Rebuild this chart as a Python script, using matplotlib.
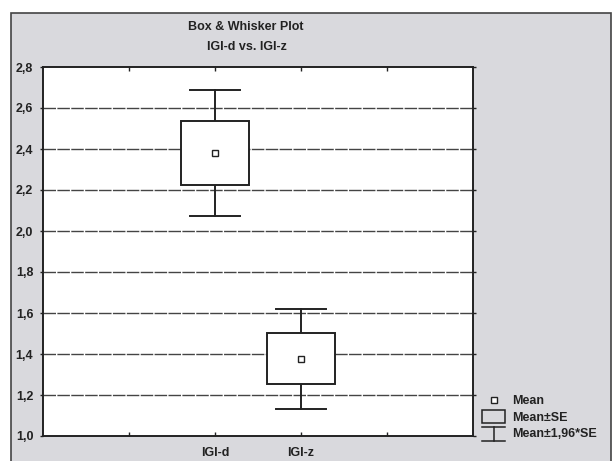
import matplotlib
matplotlib.use("Agg")
import matplotlib.pyplot as plt
from matplotlib.patches import Rectangle
from matplotlib.lines import Line2D

# data
groups = ["IGI-d", "IGI-z"]
positions = [2, 3]
means = [2.38, 1.377]
se = [0.157, 0.124]
z = 1.96

yticks = [1.0, 1.2, 1.4, 1.6, 1.8, 2.0, 2.2, 2.4, 2.6, 2.8]
ytick_labels = ["1,0", "1,2", "1,4", "1,6", "1,8", "2,0", "2,2", "2,4", "2,6", "2,8"]

legend_labels = ["Mean", "Mean±SE", "Mean±1,96*SE"]

W, H = 613, 461
plt.rcParams.update({"font.family": ["Liberation Sans", "DejaVu Sans"],
                     "font.weight": "bold", "font.size": 9})
INK = "#222222"
PAPER = "#d9d9dd"

fig = plt.figure(figsize=(W / 100, H / 100), dpi=100)
fig.patch.set_facecolor("white")


def fx(px):
    return px / W


def fy(py):
    return 1 - py / H


# grey outer frame of the scanned figure
fig.add_artist(Rectangle((fx(11), fy(465)), fx(600), (465 - 12.5) / H,
                         transform=fig.transFigure, facecolor=PAPER,
                         edgecolor="#444444", lw=1.2, zorder=0))

ax = fig.add_axes([fx(43), fy(436), fx(430), (436 - 67) / H])
ax.set_facecolor("white")
ax.set_xlim(0, 5)
ax.set_ylim(1.0, 2.8)
for s in ax.spines.values():
    s.set_color(INK)
    s.set_linewidth(1.4)

# nearly solid dashed horizontal grid
for y in yticks[1:-1]:
    ax.axhline(y, color="#444444", lw=1.0, ls=(0, (9, 1)), zorder=1)

ax.set_yticks(yticks)
ax.set_yticklabels(ytick_labels)
ax.set_xticks([1, 2, 3, 4])
ax.set_xticklabels(["", groups[0], groups[1], ""])
ax.tick_params(axis="x", direction="in", length=3, width=1, top=True,
               pad=8, colors=INK)
ax.tick_params(axis="y", direction="out", length=2, width=1, right=True,
               pad=5, colors=INK)

box_w = 0.8
cap_w = 0.58
for x, m, s in zip(positions, means, se):
    lo, hi = m - z * s, m + z * s
    ax.plot([x, x], [lo, m - s], color=INK, lw=1.4, zorder=3)
    ax.plot([x, x], [m + s, hi], color=INK, lw=1.4, zorder=3)
    ax.plot([x - cap_w / 2, x + cap_w / 2], [lo, lo], color=INK, lw=1.4, zorder=3)
    ax.plot([x - cap_w / 2, x + cap_w / 2], [hi, hi], color=INK, lw=1.4, zorder=3)
    ax.add_patch(Rectangle((x - box_w / 2, m - s), box_w, 2 * s,
                           facecolor="white", edgecolor=INK, lw=1.4, zorder=4))
    ax.plot(x, m, marker="s", ms=4.2, mfc="white", mec=INK, mew=1, zorder=5)

# titles
fig.text(fx(246), fy(27), "Box & Whisker Plot", ha="center", va="center", color=INK)
fig.text(fx(247), fy(47), "IGI-d vs. IGI-z", ha="center", va="center", color=INK)

# hand-drawn key, Statistica style
T = fig.transFigure
fig.add_artist(Line2D([fx(494)], [fy(400)], marker="s", ms=4.2, mfc="white",
                      mec=INK, mew=1, transform=T))
fig.add_artist(Rectangle((fx(482), fy(423)), fx(23), (423 - 410) / H,
                         transform=T, facecolor="none", edgecolor=INK, lw=1.1))
fig.add_artist(Line2D([fx(482), fx(505)], [fy(427), fy(427)], color=INK, lw=1.1, transform=T))
fig.add_artist(Line2D([fx(493.5), fx(493.5)], [fy(427), fy(441)], color=INK, lw=1.1, transform=T))
fig.add_artist(Line2D([fx(482), fx(505)], [fy(441), fy(441)], color=INK, lw=1.1, transform=T))
for lab, py in zip(legend_labels, [401, 418, 434]):
    fig.text(fx(512), fy(py), lab, ha="left", va="center", color=INK)

fig.savefig("out.png", dpi=100, facecolor=fig.get_facecolor())
